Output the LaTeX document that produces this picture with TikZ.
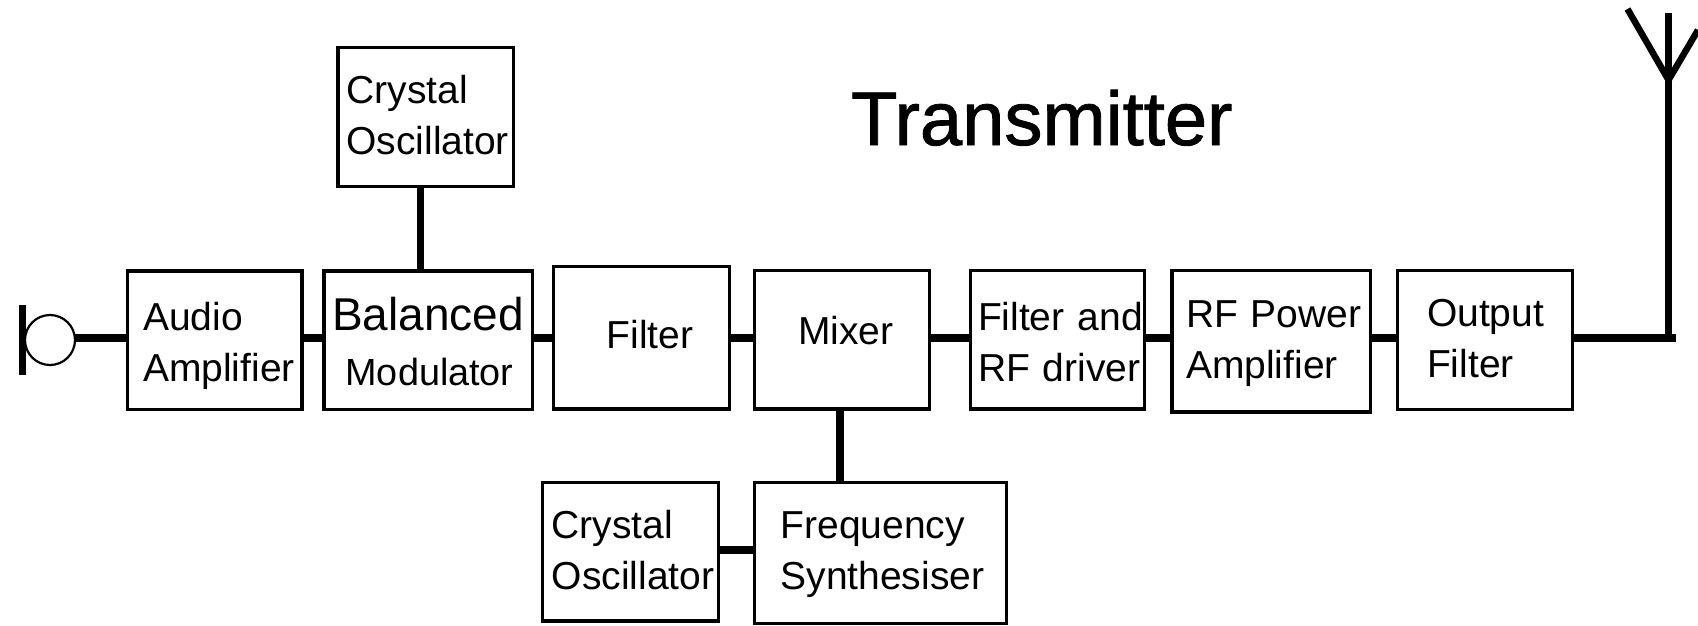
\documentclass[tikz,border=0pt]{standalone}
\usepackage{fontspec}
\setmainfont{Liberation Sans}
\newfontfamily\ttlfont[FakeBold=1.2]{Liberation Sans}
\tikzset{
  blk/.style={draw=black,line width=3.4pt,rectangle,inner sep=0pt,outer sep=0pt,align=left,font=\fontsize{39}{51}\selectfont},
  wire/.style={draw=black,line width=8pt},
  vwire/.style={draw=black,line width=7pt},
  arm/.style={draw=black,line width=6.5pt},
  ttl/.style={inner sep=0pt,outer sep=0pt,font=\ttlfont\fontsize{76}{80}\selectfont,anchor=base west}
}
\newcommand{\bx}[9]{%
  \pgfmathsetmacro{\bw}{#4-#2}%
  \pgfmathsetmacro{\bh}{#5-#3}%
  \pgfmathsetmacro{\bcx}{(#2+#4)/2}%
  \pgfmathsetmacro{\bcy}{(#3+#5)/2}%
  \pgfmathsetmacro{\bH}{20+#7+#8-(#3+#5)}%
  \pgfmathsetmacro{\bpad}{#6-#2}%
  \def\ind{\hspace*{\bpad pt}}%
  \node[blk,minimum width=\bw pt,minimum height=\bh pt,text width=\bw pt] (#1) at (\bcx,\bcy)
    {\rule{0pt}{\bH pt}\ind #9\rule[-20pt]{0pt}{20pt}};%
}
\begin{document}
\begin{tikzpicture}[x=1pt,y=-1pt]
\useasboundingbox (0,0) rectangle (1698,625);
\fill[white] (0,0) rectangle (1698,625);
\coordinate (m) at (0,338);
\coordinate (v1) at (420.5,0);
\coordinate (v2) at (840,0);
\coordinate (y2) at (0,550);
\coordinate (corner) at (1676,338);
\coordinate (mastb) at (1668.5,338);
\coordinate (mastt) at (1668.5,13);
\coordinate (fork) at (1668.5,80);
\coordinate (armL) at (1627.5,9);
\coordinate (armR) at (1698,30);
\node[ttl] (title) at (851,145) {Transmitter};
\bx{audio}{127.5}{271}{302}{409.5}{143}{330}{381.7}{Audio\\\ind Amplifier}
\bx{bal}{324}{271}{532.5}{409.5}{332}{330.7}{385.7}{{\fontsize{46}{51}\selectfont Balanced}\\[4pt]\ind\hspace*{13.5pt}{\fontsize{37.8}{51}\selectfont Modulator}}
\bx{xt}{338}{47.5}{513.5}{186.5}{346.4}{103.3}{154.3}{Crystal\\\ind Oscillator}
\bx{filt}{553.5}{266.5}{729.5}{409}{606.7}{348.3}{348.3}{Filter}
\bx{mix}{754.5}{270.5}{929.5}{409}{798}{344.3}{344.3}{Mixer}
\bx{drv}{970.5}{270.5}{1144.5}{409}{978}{330}{381}{Filter and\\\ind RF driver}
\bx{pa}{1172}{270.5}{1370.5}{412}{1186}{327}{378}{RF Power\\\ind Amplifier}
\bx{out}{1397.5}{270.5}{1572.5}{409.5}{1427}{326}{377}{Output\\\ind Filter}
\bx{xb}{542.5}{482.5}{718.5}{621}{551.7}{538.3}{589.3}{Crystal\\\ind Oscillator}
\bx{syn}{754.5}{482.5}{1006.5}{623.5}{780.5}{538.3}{589.3}{Frequency\\\ind Synthesiser}
\node[draw=black,circle,line width=2.2pt,minimum size=50pt,inner sep=0pt,outer sep=0pt] (mic) at (50,340) {};
\draw[vwire] (22.5,305) -- (22.5,375);
\draw[wire] (mic.east |- m) -- (audio.west |- m);
\draw[wire] (audio.east |- m) -- (bal.west |- m);
\draw[wire] (bal.east |- m) -- (filt.west |- m);
\draw[wire] (filt.east |- m) -- (mix.west |- m);
\draw[wire] (mix.east |- m) -- (drv.west |- m);
\draw[wire] (drv.east |- m) -- (pa.west |- m);
\draw[wire] (pa.east |- m) -- (out.west |- m);
\draw[wire] (out.east |- m) -- (corner);
\draw[vwire] (xt.south -| v1) -- (bal.north -| v1);
\draw[wire] (mix.south -| v2) -- (syn.north -| v2);
\draw[wire] (xb.east |- y2) -- (syn.west |- y2);
\draw[vwire] (mastb) -- (mastt);
\draw[arm] (armL) -- (fork);
\draw[arm] (armR) -- (fork);
\end{tikzpicture}
\end{document}
